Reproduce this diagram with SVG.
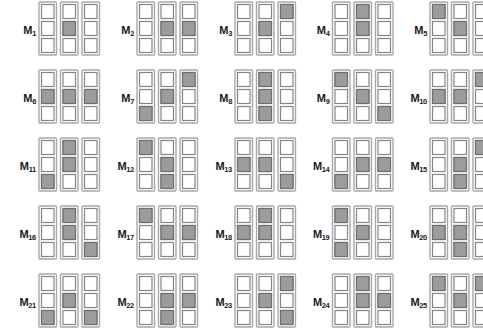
<svg xmlns="http://www.w3.org/2000/svg" xmlns:xlink="http://www.w3.org/1999/xlink" width="483" height="334" viewBox="0 0 483 334">
<style>
.col{fill:#fff;stroke:#a8a8a8;stroke-width:1.4}
.cell{fill:#fff;stroke:#858585;stroke-width:1.2}
.on{fill:#9c9c9c;stroke:#6e6e6e;stroke-width:1.2}
.lbl{font-family:"Liberation Sans",Arial,sans-serif;font-weight:bold;font-size:11px;fill:#1a1a1a;text-anchor:end;letter-spacing:-0.3px}
.sub{font-size:7.5px}
</style>
<defs>
<g id="grid">
<rect class="col" x="0" y="0" width="17.5" height="53" rx="1"/>
<rect class="col" x="21.5" y="0" width="17.5" height="53" rx="1"/>
<rect class="col" x="43" y="0" width="17.5" height="53" rx="1"/>
<rect class="cell" x="2.5" y="2.5" width="12.5" height="14"/>
<rect class="cell" x="2.5" y="19.5" width="12.5" height="14"/>
<rect class="cell" x="2.5" y="36.5" width="12.5" height="14"/>
<rect class="cell" x="24" y="2.5" width="12.5" height="14"/>
<rect class="cell" x="24" y="19.5" width="12.5" height="14"/>
<rect class="cell" x="24" y="36.5" width="12.5" height="14"/>
<rect class="cell" x="45.5" y="2.5" width="12.5" height="14"/>
<rect class="cell" x="45.5" y="19.5" width="12.5" height="14"/>
<rect class="cell" x="45.5" y="36.5" width="12.5" height="14"/>
</g>
<rect id="a0" class="on" x="2.5" y="2.5" width="12.5" height="14"/>
<rect id="a1" class="on" x="2.5" y="19.5" width="12.5" height="14"/>
<rect id="a2" class="on" x="2.5" y="36.5" width="12.5" height="14"/>
<rect id="b0" class="on" x="24" y="2.5" width="12.5" height="14"/>
<rect id="b1" class="on" x="24" y="19.5" width="12.5" height="14"/>
<rect id="b2" class="on" x="24" y="36.5" width="12.5" height="14"/>
<rect id="c0" class="on" x="45.5" y="2.5" width="12.5" height="14"/>
<rect id="c1" class="on" x="45.5" y="19.5" width="12.5" height="14"/>
<rect id="c2" class="on" x="45.5" y="36.5" width="12.5" height="14"/>
</defs>
<rect width="483" height="334" fill="#fff"/>
<g id="connectors"/>
<!-- Row 1 -->
<g id="M1" transform="translate(39,2)"><use href="#grid"/><use href="#b1"/><text class="lbl" x="-3" y="32">M<tspan class="sub" dy="1.5">1</tspan></text></g>
<g id="M2" transform="translate(137,2)"><use href="#grid"/><use href="#b1"/><use href="#c1"/><text class="lbl" x="-3" y="32">M<tspan class="sub" dy="1.5">2</tspan></text></g>
<g id="M3" transform="translate(235,2)"><use href="#grid"/><use href="#b1"/><use href="#c0"/><text class="lbl" x="-3" y="32">M<tspan class="sub" dy="1.5">3</tspan></text></g>
<g id="M4" transform="translate(332.5,2)"><use href="#grid"/><use href="#b0"/><use href="#b1"/><text class="lbl" x="-3" y="32">M<tspan class="sub" dy="1.5">4</tspan></text></g>
<g id="M5" transform="translate(430,2)"><use href="#grid"/><use href="#a0"/><use href="#b1"/><text class="lbl" x="-3" y="32">M<tspan class="sub" dy="1.5">5</tspan></text></g>
<!-- Row 2 -->
<g id="M6" transform="translate(39,70)"><use href="#grid"/><use href="#a1"/><use href="#b1"/><use href="#c1"/><text class="lbl" x="-3" y="32">M<tspan class="sub" dy="1.5">6</tspan></text></g>
<g id="M7" transform="translate(137,70)"><use href="#grid"/><use href="#a2"/><use href="#b1"/><use href="#c0"/><text class="lbl" x="-3" y="32">M<tspan class="sub" dy="1.5">7</tspan></text></g>
<g id="M8" transform="translate(235,70)"><use href="#grid"/><use href="#b0"/><use href="#b1"/><use href="#b2"/><text class="lbl" x="-3" y="32">M<tspan class="sub" dy="1.5">8</tspan></text></g>
<g id="M9" transform="translate(332.5,70)"><use href="#grid"/><use href="#a0"/><use href="#b1"/><use href="#c2"/><text class="lbl" x="-3" y="32">M<tspan class="sub" dy="1.5">9</tspan></text></g>
<g id="M10" transform="translate(430,70)"><use href="#grid"/><use href="#a1"/><use href="#b1"/><use href="#c0"/><text class="lbl" x="-3" y="32">M<tspan class="sub" dy="1.5">10</tspan></text></g>
<!-- Row 3 -->
<g id="M11" transform="translate(39,138)"><use href="#grid"/><use href="#a2"/><use href="#b0"/><use href="#b1"/><text class="lbl" x="-3" y="32">M<tspan class="sub" dy="1.5">11</tspan></text></g>
<g id="M12" transform="translate(137,138)"><use href="#grid"/><use href="#a0"/><use href="#b1"/><use href="#b2"/><text class="lbl" x="-3" y="32">M<tspan class="sub" dy="1.5">12</tspan></text></g>
<g id="M13" transform="translate(235,138)"><use href="#grid"/><use href="#a1"/><use href="#b1"/><use href="#c2"/><text class="lbl" x="-3" y="32">M<tspan class="sub" dy="1.5">13</tspan></text></g>
<g id="M14" transform="translate(332.5,138)"><use href="#grid"/><use href="#a2"/><use href="#b1"/><use href="#c1"/><text class="lbl" x="-3" y="32">M<tspan class="sub" dy="1.5">14</tspan></text></g>
<g id="M15" transform="translate(430,138)"><use href="#grid"/><use href="#b1"/><use href="#b2"/><use href="#c0"/><text class="lbl" x="-3" y="32">M<tspan class="sub" dy="1.5">15</tspan></text></g>
<!-- Row 4 -->
<g id="M16" transform="translate(39,206)"><use href="#grid"/><use href="#b0"/><use href="#b1"/><use href="#c2"/><text class="lbl" x="-3" y="32">M<tspan class="sub" dy="1.5">16</tspan></text></g>
<g id="M17" transform="translate(137,206)"><use href="#grid"/><use href="#a0"/><use href="#b1"/><use href="#c1"/><text class="lbl" x="-3" y="32">M<tspan class="sub" dy="1.5">17</tspan></text></g>
<g id="M18" transform="translate(235,206)"><use href="#grid"/><use href="#a1"/><use href="#b0"/><use href="#b1"/><text class="lbl" x="-3" y="32">M<tspan class="sub" dy="1.5">18</tspan></text></g>
<g id="M19" transform="translate(332.5,206)"><use href="#grid"/><use href="#a0"/><use href="#a2"/><use href="#b1"/><text class="lbl" x="-3" y="32">M<tspan class="sub" dy="1.5">19</tspan></text></g>
<g id="M20" transform="translate(430,206)"><use href="#grid"/><use href="#a1"/><use href="#b1"/><use href="#b2"/><text class="lbl" x="-3" y="32">M<tspan class="sub" dy="1.5">20</tspan></text></g>
<!-- Row 5 -->
<g id="M21" transform="translate(39,274)"><use href="#grid"/><use href="#a2"/><use href="#b1"/><use href="#c2"/><text class="lbl" x="-3" y="32">M<tspan class="sub" dy="1.5">21</tspan></text></g>
<g id="M22" transform="translate(137,274)"><use href="#grid"/><use href="#b1"/><use href="#b2"/><use href="#c1"/><text class="lbl" x="-3" y="32">M<tspan class="sub" dy="1.5">22</tspan></text></g>
<g id="M23" transform="translate(235,274)"><use href="#grid"/><use href="#b1"/><use href="#c0"/><use href="#c2"/><text class="lbl" x="-3" y="32">M<tspan class="sub" dy="1.5">23</tspan></text></g>
<g id="M24" transform="translate(332.5,274)"><use href="#grid"/><use href="#b0"/><use href="#b1"/><use href="#c1"/><text class="lbl" x="-3" y="32">M<tspan class="sub" dy="1.5">24</tspan></text></g>
<g id="M25" transform="translate(430,274)"><use href="#grid"/><use href="#a0"/><use href="#b1"/><use href="#c0"/><text class="lbl" x="-3" y="32">M<tspan class="sub" dy="1.5">25</tspan></text></g>
</svg>
